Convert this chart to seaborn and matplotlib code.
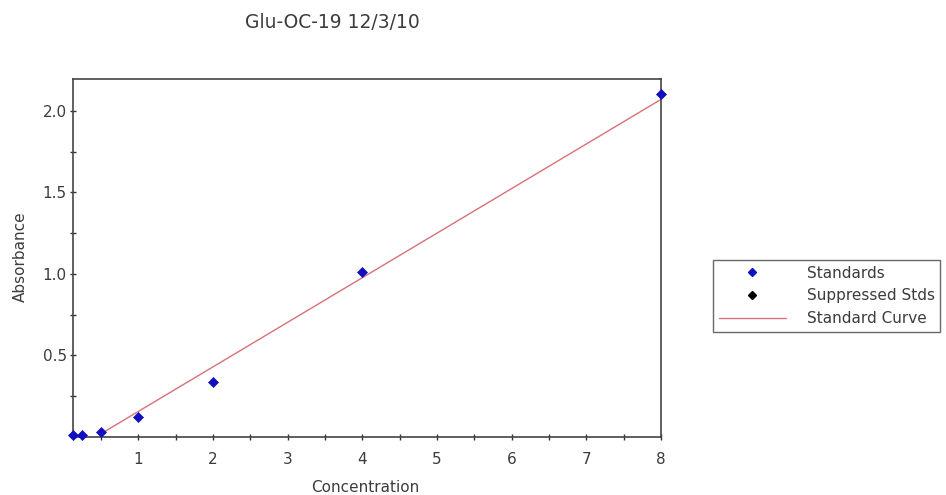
import matplotlib
matplotlib.use("Agg")
import matplotlib.pyplot as plt
import seaborn as sns
import pandas as pd
from matplotlib.lines import Line2D
from matplotlib.ticker import MultipleLocator

# Data
std_conc = [0.125, 0.25, 0.5, 1, 2, 4, 8]
std_abs = [0.012, 0.012, 0.03, 0.12, 0.34, 1.01, 2.10]
curve_conc = [0.5, 8]
curve_abs = [0.02, 2.07]
x_ticks = [1, 2, 3, 4, 5, 6, 7, 8]
y_ticks = [0.5, 1.0, 1.5, 2.0]

sns.set_theme(style="white")
plt.rcParams['font.family'] = ['DejaVu Sans']

TXT = "#3c3c3c"
fig = plt.figure(figsize=(9.46, 4.95), dpi=100)
W, H = 946, 495
ax = fig.add_axes([73 / W, 1 - 437 / H, (661 - 73) / W, (437 - 79) / H])

std_df = pd.DataFrame({"Concentration": std_conc, "Absorbance": std_abs})
curve_df = pd.DataFrame({"Concentration": curve_conc, "Absorbance": curve_abs})

sns.lineplot(data=curve_df, x="Concentration", y="Absorbance", ax=ax,
             color="#d9707a", linewidth=1.0, zorder=2)
sns.scatterplot(data=std_df, x="Concentration", y="Absorbance", ax=ax,
                marker="D", color="#1010c0", s=26, edgecolor="#1010c0",
                linewidth=0.5, zorder=3, clip_on=False)

ax.set_xlim(0.125, 8.0)
ax.set_ylim(0.0, 2.195)
ax.set_xticks(x_ticks)
ax.set_yticks(y_ticks)
ax.set_yticklabels([f"{v:.1f}" for v in y_ticks])
ax.xaxis.set_minor_locator(MultipleLocator(0.5))
ax.yaxis.set_minor_locator(MultipleLocator(0.25))
ax.tick_params(which="both", direction="inout", length=5, width=1.0,
               color="#333333", labelsize=11, labelcolor=TXT,
               bottom=True, left=True, pad=2)
ax.tick_params(axis="x", pad=8)
for s in ax.spines.values():
    s.set_color("#444444")
    s.set_linewidth(1.2)

ax.set_xlabel("")
ax.set_ylabel("")
fig.text(365 / W, 1 - 487 / H, "Concentration", ha="center", va="center",
         fontsize=11, color=TXT)
fig.text(20 / W, 1 - 257 / H, "Absorbance", ha="center", va="center",
         rotation=90, fontsize=11, color=TXT)

fig.text(332 / W, 1 - 23 / H, "Glu-OC-19 12/3/10", ha="center", va="center",
         fontsize=13.5, color=TXT)

handles = [
    Line2D([], [], marker="D", linestyle="none", color="#1010c0", markersize=4.5),
    Line2D([], [], marker="D", linestyle="none", color="black", markersize=4.5),
    Line2D([], [], color="#d9707a", linewidth=1.0),
]
labels = ["Standards", "Suppressed Stds", "Standard Curve"]
leg = fig.legend(handles, labels, loc="upper left",
                 bbox_to_anchor=(713 / W, 1 - 260 / H), fontsize=11,
                 frameon=True, fancybox=False, borderpad=0.38,
                 labelspacing=0.5, handlelength=4.4, handletextpad=1.35,
                 borderaxespad=0)
leg.get_frame().set_edgecolor("#444444")
leg.get_frame().set_linewidth(1.0)
for t in leg.get_texts():
    t.set_color(TXT)

fig.savefig("out.png", dpi=100)
